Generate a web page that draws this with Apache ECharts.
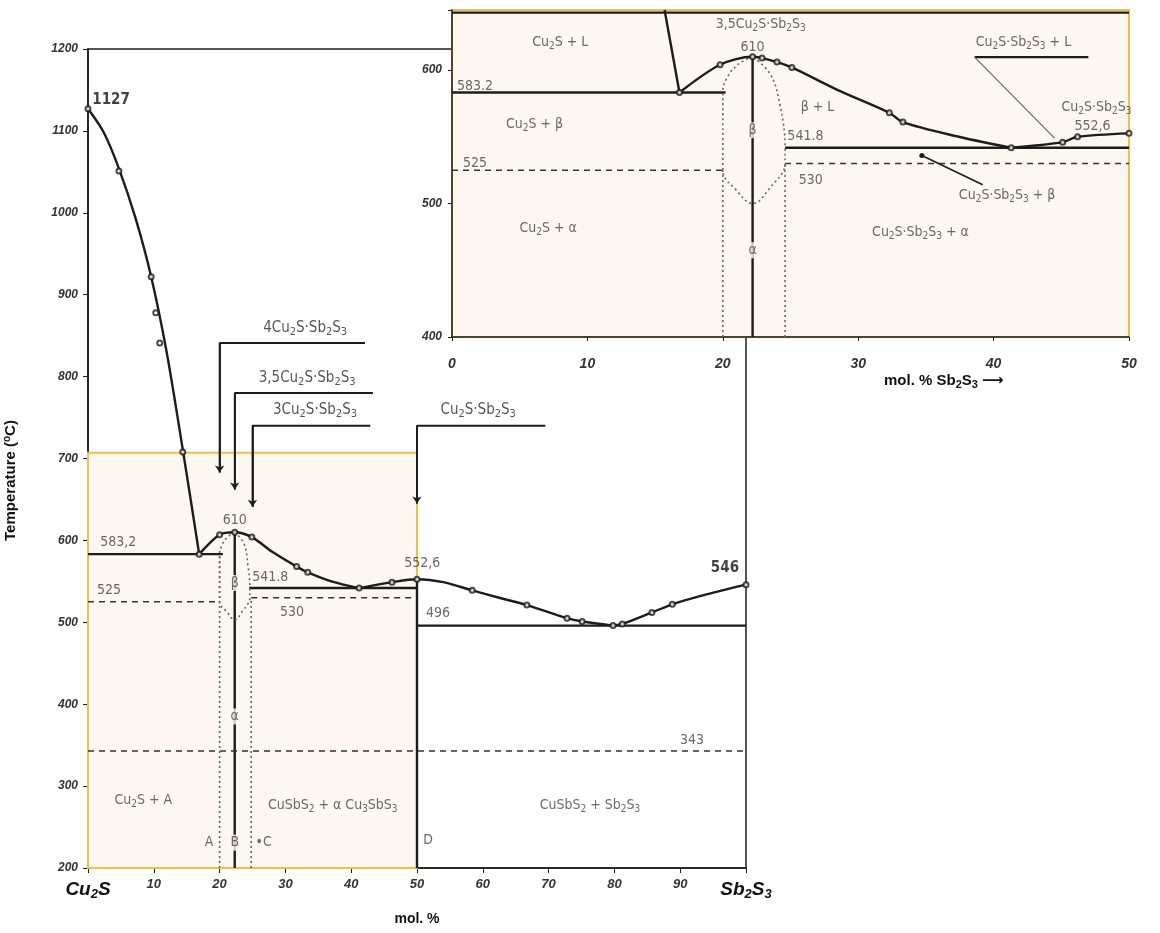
<!DOCTYPE html>
<html>
<head>
<meta charset="utf-8">
<script src="https://cdn.jsdelivr.net/npm/echarts@6/dist/echarts.min.js"></script>
<style>
  html, body { margin: 0; background: #fff; }
  #chart { width: 1160px; height: 933px; }
</style>
</head>
<body>
<div id="chart"></div>
<script>
// ---- main diagram: Cu2S – Sb2S3, mol.% vs temperature ----
// drawn curves (read along the line) and measured points (the small circles)
const liquidusCu2S = [[0, 1127], [2.4, 1098], [4.7, 1054], [7.2, 994], [9.6, 922], [12, 828], [14.4, 711], [16.9, 583.2]];
const liquidusPeak = [[16.9, 583.2], [20, 607], [22.3, 610], [24.9, 604], [28, 586], [31.7, 568], [33.4, 561], [37, 550], [41.2, 541.8]];
const liquidusCenter = [[41.2, 541.8], [46.2, 549], [50, 552.6], [54, 549], [58.4, 539], [62.5, 530], [66.7, 521], [72.8, 505], [75.1, 501], [79.8, 496]];
const liquidusSb2S3 = [[79.8, 496], [81.2, 498], [85.7, 512], [88.8, 522], [94, 534], [100, 546]];
const pointsMain = [
  [0, 1127], [4.7, 1051], [9.6, 922], [10.3, 878], [10.9, 841], [14.4, 708], [16.9, 583.2],
  [20, 607], [22.3, 610], [24.9, 604], [31.7, 568], [33.4, 561], [41.2, 541.8], [46.2, 549], [50, 552.6],
  [58.4, 539], [66.7, 521], [72.8, 505], [75.1, 501], [79.8, 496], [81.2, 498], [85.7, 512], [88.8, 522], [100, 546]
];

const solidMain = [
  [[0, 583.2], [20.5, 583.2]],
  [[24.5, 541.8], [50, 541.8]],
  [[50, 496], [100, 496]],
  [[22.3, 200], [22.3, 610]],
  [[50, 200], [50, 552.6]]
];
const dashedMain = [
  [[0, 525], [20, 525]],
  [[24.8, 530], [50, 530]],
  [[0, 343], [100, 343]]
];
const dottedMain = [
  [[20, 200], [20, 583.2]],
  [[24.8, 200], [24.8, 530]]
];
const betaMain = [[22.3, 610], [21.2, 604], [20.4, 595], [20, 583.2], [20, 525], [21.2, 512], [22.3, 503], [23.5, 514], [24.6, 530], [24.6, 541.8], [24.3, 570], [23.7, 596], [22.3, 610]];
const bracketsMain = [
  [[42.1, 841], [20, 841], [20, 683]],
  [[43.3, 780], [22.3, 780], [22.3, 662]],
  [[42.9, 740], [25, 740], [25, 641]],
  [[69.5, 740], [50, 740], [50, 645]]
];
const boxMain = [0, 200, 50, 707];

const labelsMain = [
  [4.6, 597, '583,2'], [3.2, 539, '525'], [22.3, 625, '610'], [27.7, 555, '541.8'],
  [31, 512.6, '530'], [50.8, 572, '552,6'], [53.2, 511, '496'], [91.8, 356, '343'],
  [8.4, 283, 'Cu_2S + A'], [37.2, 277, 'CuSbS_2 + α Cu_3SbS_3'], [76.3, 277, 'CuSbS_2 + Sb_2S_3'],
  [18.4, 231, 'A'], [26.7, 231, '•C'], [51.7, 234, 'D']
];
const labelsMainBold = [[3.5, 1138, '1127'], [96.8, 566, '546']];
const labelsBrackets = [
  [33, 859, '4Cu_2S·Sb_2S_3'], [33.3, 798, '3,5Cu_2S·Sb_2S_3'],
  [34.5, 759, '3Cu_2S·Sb_2S_3'], [59.3, 759, 'Cu_2S·Sb_2S_3']
];
const labelsMainOnLine = [[22.3, 548, 'β'], [22.3, 385, 'α'], [22.3, 231, 'B']];

// ---- inset: 0–50 mol.% Sb2S3, 400–645 °C ----
const insetSteep = [[15.7, 645], [16.8, 583.2]];
const insetPeak = [[16.8, 583.2], [19.8, 604], [22.2, 610], [22.9, 609], [24.0, 606], [25.1, 602], [28.5, 585], [32.3, 568], [33.3, 561], [37, 551], [41.3, 541.8]];
const insetRight = [[41.3, 541.8], [45.1, 546], [46.2, 550], [50, 552.6]];
const pointsInset = [
  [16.8, 583.2], [19.8, 604], [22.2, 610], [22.9, 609], [24.0, 606], [25.1, 602], [32.3, 568], [33.3, 561],
  [41.3, 541.8], [45.1, 546], [46.2, 550], [50, 552.6]
];
const solidInset = [
  [[0, 643], [50, 643]],
  [[0, 583.2], [20.2, 583.2]],
  [[24.6, 541.8], [50, 541.8]],
  [[22.2, 400], [22.2, 610]],
  [[38.6, 609.7], [47, 609.7]]
];
const dashedInset = [
  [[0, 525], [20, 525]],
  [[24.6, 530], [50, 530]]
];
const dottedInset = [
  [[20, 400], [20, 525]],
  [[24.6, 400], [24.6, 530]]
];
const betaInset = [[22.2, 610], [21.1, 604], [20.3, 594], [20, 583.2], [20, 525], [21, 510], [22.2, 500], [23.5, 512], [24.6, 530], [24.6, 541.8], [24.2, 575], [23.5, 597], [22.2, 610]];
const leaderL = [[38.6, 609.7], [44.5, 549]];
const leaderBeta = [[34.7, 536], [39.2, 514]];

const labelsInset = [
  [8.0, 621, 'Cu_2S + L'], [22.8, 634, '3,5Cu_2S·Sb_2S_3'], [22.2, 617, '610'],
  [1.7, 588, '583.2'], [6.1, 559, 'Cu_2S + β'], [27.0, 572, 'β + L'], [26.1, 550, '541.8'],
  [1.7, 530, '525'], [26.5, 517.5, '530'], [42.2, 621, 'Cu_2S·Sb_2S_3 + L'],
  [47.6, 572, 'Cu_2S·Sb_2S_3'], [47.3, 558, '552,6'], [41, 506, 'Cu_2S·Sb_2S_3 + β'],
  [7.1, 481.6, 'Cu_2S + α'], [34.6, 478.6, 'Cu_2S·Sb_2S_3 + α']
];
const labelsInsetOnLine = [[22.2, 555, 'β'], [22.2, 465, 'α']];

const FONT = '"Liberation Sans Narrow","DejaVu Sans Condensed","Liberation Sans",sans-serif';
const SANS = '"Liberation Sans","DejaVu Sans",sans-serif';
const CREAM = '#fcf7f0';
const YELLOW = '#efbf4a';
const INK = '#1c1c1c';

const sub = t => t.replace(/_(\d)/g, '{s|$1}');

function labelSeries(items, grid, z, size, color, weight, bg) {
  return {
    type: 'scatter', xAxisIndex: grid, yAxisIndex: grid, z: z, silent: true,
    symbolSize: 1, itemStyle: { color: 'rgba(0,0,0,0)' },
    data: items.map(d => ({ value: [d[0], d[1]], name: d[2] })),
    label: {
      show: true, position: 'inside', formatter: p => sub(p.name),
      fontFamily: FONT, fontSize: size, color: color, fontWeight: weight || 'normal',
      backgroundColor: bg || 'transparent', padding: bg ? [1, 0] : 0,
      rich: { s: { fontFamily: FONT, fontSize: Math.round(size * 0.72), color: color, fontWeight: weight || 'normal', padding: [Math.round(size * 0.55), 0, 0, 0] } }
    }
  };
}

function segSeries(segs, grid, z, lineStyle) {
  return segs.map(s => ({
    type: 'line', xAxisIndex: grid, yAxisIndex: grid, z: z, silent: true,
    symbol: 'none', data: s, lineStyle: lineStyle
  }));
}

function curveSeries(pts, grid, z) {
  return {
    type: 'line', xAxisIndex: grid, yAxisIndex: grid, z: z, silent: true,
    data: pts, smooth: 0.3, symbol: 'none',
    lineStyle: { color: INK, width: 2.4 }
  };
}

function pointSeries(pts, grid, z) {
  return {
    type: 'scatter', xAxisIndex: grid, yAxisIndex: grid, z: z, silent: true,
    data: pts, symbol: 'emptyCircle', symbolSize: 5,
    itemStyle: { color: INK, borderWidth: 1 }
  };
}

function arrowSeries(brackets, grid, z) {
  return {
    type: 'lines', coordinateSystem: 'cartesian2d', xAxisIndex: grid, yAxisIndex: grid, z: z, silent: true,
    symbol: ['none', 'arrow'], symbolSize: 7,
    lineStyle: { color: INK, width: 1.8, opacity: 1 },
    data: brackets.map(c => ({ coords: c.slice(-2) }))
  };
}

function boxSeries(box, grid, z, itemStyle) {
  return {
    type: 'line', xAxisIndex: grid, yAxisIndex: grid, z: z, silent: true,
    data: [[box[0], box[1]]], symbol: 'none', lineStyle: { width: 0 },
    markArea: { silent: true, itemStyle: itemStyle, data: [[{ coord: [box[0], box[1]] }, { coord: [box[2], box[3]] }]] }
  };
}

const solidStyle = { color: INK, width: 2.4 };
const bracketStyle = { color: INK, width: 1.8 };
const dashedStyle = { color: '#333', width: 1.5, type: [6, 5] };
const dottedStyle = { color: '#666', width: 1.6, type: [2, 3] };

const series = [
  boxSeries(boxMain, 0, 1, { color: CREAM }),
  curveSeries(liquidusCu2S, 0, 3),
  curveSeries(liquidusPeak, 0, 3),
  curveSeries(liquidusCenter, 0, 3),
  curveSeries(liquidusSb2S3, 0, 3),
  pointSeries(pointsMain, 0, 4),
  ...segSeries(solidMain, 0, 2, solidStyle),
  ...segSeries(dashedMain, 0, 2, dashedStyle),
  ...segSeries(dottedMain, 0, 2, dottedStyle),
  { type: 'line', xAxisIndex: 0, yAxisIndex: 0, z: 2, silent: true, symbol: 'none', smooth: 0.4, data: betaMain, lineStyle: dottedStyle },
  ...segSeries(bracketsMain, 0, 3, bracketStyle),
  arrowSeries(bracketsMain, 0, 3),
  labelSeries(labelsMain, 0, 4, 14, '#444'),
  labelSeries(labelsMainBold, 0, 4, 15, '#111', 'bold'),
  labelSeries(labelsBrackets, 0, 4, 15, '#2a2a2a'),
  labelSeries(labelsMainOnLine, 0, 4, 14, '#444', 'normal', CREAM),
  boxSeries(boxMain, 0, 6, { color: 'rgba(0,0,0,0)', borderColor: YELLOW, borderWidth: 2 }),

  // inset
  curveSeries(insetPeak, 1, 13),
  curveSeries(insetRight, 1, 13),
  pointSeries(pointsInset, 1, 14),
  ...segSeries([insetSteep], 1, 12, solidStyle),
  ...segSeries(solidInset, 1, 12, solidStyle),
  ...segSeries(dashedInset, 1, 12, dashedStyle),
  ...segSeries(dottedInset, 1, 12, dottedStyle),
  ...segSeries([leaderL], 1, 12, { color: '#666', width: 1.2 }),
  { type: 'line', xAxisIndex: 1, yAxisIndex: 1, z: 12, silent: true, symbol: 'none', smooth: 0.4, data: betaInset, lineStyle: dottedStyle },
  {
    type: 'lines', coordinateSystem: 'cartesian2d', xAxisIndex: 1, yAxisIndex: 1, z: 13, silent: true,
    symbol: ['circle', 'none'], symbolSize: 5,
    lineStyle: { color: INK, width: 1.6, opacity: 1 },
    data: [{ coords: leaderBeta }]
  },
  labelSeries(labelsInset, 1, 14, 14, '#444'),
  labelSeries(labelsInsetOnLine, 1, 14, 14, '#444', 'normal', CREAM)
];

const tickFont = { fontFamily: SANS, fontStyle: 'italic', fontWeight: 'bold', color: '#333' };

const option = {
  animation: false,
  backgroundColor: '#ffffff',
  grid: [
    { left: 88, top: 49, width: 658, height: 819, outerBoundsMode: 'none', show: true, backgroundColor: 'transparent', borderColor: INK, borderWidth: 1.5 },
    { left: 452, top: 10, width: 677, height: 327, outerBoundsMode: 'none', show: true, z: 10, backgroundColor: CREAM, borderColor: YELLOW, borderWidth: 2 }
  ],
  xAxis: [
    {
      gridIndex: 0, type: 'value', min: 0, max: 100, interval: 10,
      axisLine: { lineStyle: { color: INK, width: 1.5 } },
      axisTick: { length: 5, lineStyle: { color: INK } },
      splitLine: { show: false },
      axisLabel: Object.assign({}, tickFont, {
        fontSize: 13, margin: 10,
        formatter: v => v === 0 ? '{e|Cu}{es|2}{e|S}' : v === 100 ? '{e|Sb}{es|2}{e|S}{es|3}' : String(v),
        rich: {
          e: { fontFamily: SANS, fontSize: 19, fontWeight: 'bold', color: '#111' },
          es: { fontFamily: SANS, fontSize: 13, fontWeight: 'bold', color: '#111', padding: [10, 0, 0, 0] }
        }
      }),
      name: 'mol. %', nameLocation: 'middle', nameGap: 44,
      nameTextStyle: { fontFamily: SANS, fontSize: 14, fontWeight: 'bold', color: '#111' }
    },
    {
      gridIndex: 1, type: 'value', min: 0, max: 50, interval: 10, z: 11,
      axisLine: { lineStyle: { color: INK, width: 1.5 } },
      axisTick: { length: 4, lineStyle: { color: INK } },
      splitLine: { show: false },
      axisLabel: Object.assign({}, tickFont, { fontSize: 14, margin: 20 })
    }
  ],
  yAxis: [
    {
      gridIndex: 0, type: 'value', min: 200, max: 1200, interval: 100,
      axisLine: { show: true, lineStyle: { color: INK, width: 1.5 } },
      axisTick: { show: true, length: 5, lineStyle: { color: INK } },
      splitLine: { show: false },
      axisLabel: Object.assign({}, tickFont, { fontSize: 12, margin: 10, formatter: v => String(v) }),
      name: 'Temperature ({sup|o}C)', nameLocation: 'middle', nameGap: 68, nameRotate: 90,
      nameTextStyle: {
        fontFamily: SANS, fontSize: 15, fontWeight: 'bold', color: '#111', padding: [0, 44, 0, 0],
        rich: { sup: { fontFamily: SANS, fontSize: 10, fontWeight: 'bold', color: '#111', padding: [0, 0, 8, 0] } }
      }
    },
    {
      gridIndex: 1, type: 'value', min: 400, max: 645, interval: 100, z: 11,
      axisLine: { show: true, lineStyle: { color: INK, width: 1.5 } },
      axisTick: { show: true, length: 4, lineStyle: { color: INK } },
      splitLine: { show: false },
      axisLabel: Object.assign({}, tickFont, { fontSize: 12, margin: 10, formatter: v => (v % 100 === 0 ? String(v) : '') })
    }
  ],
  graphic: [
    {
      type: 'text', left: 884, top: 373, z: 20, silent: true,
      style: {
        text: 'mol. % Sb{s|2}S{s|3} ⟶',
        fontFamily: SANS, fontSize: 15, fontWeight: 'bold', fill: '#111',
        rich: { s: { fontFamily: SANS, fontSize: 11, fontWeight: 'bold', fill: '#111', padding: [9, 0, 0, 0] } }
      }
    }
  ],
  series: series
};

const chart = echarts.init(document.getElementById('chart'));
chart.setOption(option);
window.addEventListener('resize', () => chart.resize());
</script>
</body>
</html>
